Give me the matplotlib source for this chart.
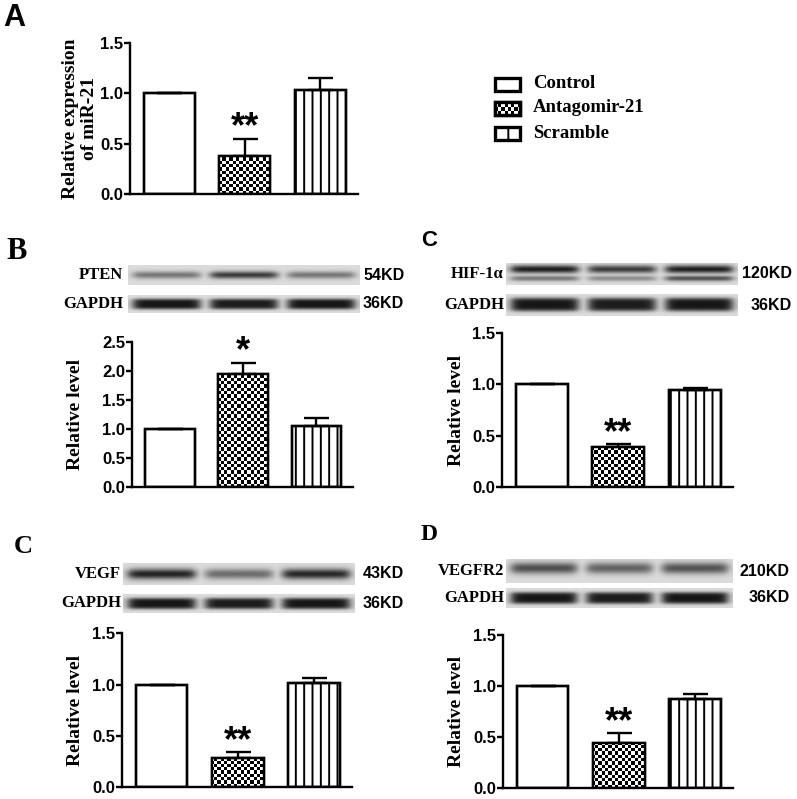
import numpy as np
import matplotlib
matplotlib.use("Agg")
import matplotlib.pyplot as plt
from matplotlib.patches import Rectangle

# ---------------- data ----------------
groups = ["Control", "Antagomir-21", "Scramble"]

mir21_mean = [1.00, 0.38, 1.03]
mir21_err = [0.0, 0.17, 0.12]

pten_mean = [1.00, 1.94, 1.04]
pten_err = [0.0, 0.20, 0.15]

hif_mean = [1.00, 0.39, 0.95]
hif_err = [0.0, 0.03, 0.02]

vegf_mean = [1.00, 0.29, 1.02]
vegf_err = [0.0, 0.055, 0.045]

vegfr2_mean = [1.00, 0.44, 0.87]
vegfr2_err = [0.0, 0.10, 0.055]

sig_A = ["", "**", ""]
sig_B = ["", "*", ""]
sig_C1 = ["", "**", ""]
sig_C2 = ["", "**", ""]
sig_D = ["", "**", ""]

# western blot band intensities per lane (relative darkness)
pten_band = [0.5, 0.8, 0.5]
hif_band = [0.95, 0.8, 0.95]
hif_band_lower = [0.5, 0.4, 0.7]
vegf_band = [0.92, 0.55, 0.9]
vegfr2_band = [0.7, 0.6, 0.68]
gapdh_band = [0.98, 0.95, 0.98]

# ---------------- figure ----------------
W, H = 797, 799
fig = plt.figure(figsize=(W / 100, H / 100), dpi=100)
fig.patch.set_facecolor("white")
plt.rcParams["hatch.linewidth"] = 1.4

SANS = "Liberation Sans"
SERIF = "Liberation Serif"


def ax_px(x0, y0, x1, y1):
    return fig.add_axes([x0 / W, 1 - y1 / H, (x1 - x0) / W, (y1 - y0) / H])


def checker_fill(ax, patch, cell=3.3):
    bb = ax.get_window_extent()
    nx = max(2, int(round(bb.width / cell)))
    ny = max(2, int(round(bb.height / cell)))
    ii, jj = np.indices((ny, nx))
    img = ((ii + jj) % 2).astype(float)
    xl, yl = ax.get_xlim(), ax.get_ylim()
    im = ax.imshow(img, cmap="gray", vmin=0, vmax=1, extent=(xl[0], xl[1], yl[0], yl[1]),
                   origin="lower", aspect="auto", interpolation="nearest", zorder=2.2)
    im.set_clip_path(patch)
    ax.set_xlim(xl)
    ax.set_ylim(yl)


def bar_panel(ax, means, errs, sigs, ymax, ystep):
    x = np.arange(len(means))
    ax.set_xlim(-0.52, 2.5)
    ax.set_ylim(0, ymax)
    bars = ax.bar(x, means, width=0.68, color="white", edgecolor="black", linewidth=1.7, zorder=2)
    bars[2].set_hatch("||")
    checker_fill(ax, bars[1])
    ax.bar(x, means, width=0.68, fill=False, edgecolor="black", linewidth=1.7, zorder=3)
    ax.errorbar(x, means, yerr=[np.zeros(len(errs)), errs], fmt="none", ecolor="black",
                elinewidth=1.7, capsize=9, capthick=1.7, zorder=3)
    for xi, m, e, s in zip(x, means, errs, sigs):
        if s:
            ax.annotate(s, (xi, m + e), xytext=(0, -5), textcoords="offset points",
                        ha="center", va="bottom", fontsize=26, fontweight="bold", family=SANS)
    for sp in ["top", "right"]:
        ax.spines[sp].set_visible(False)
    for sp in ["left", "bottom"]:
        ax.spines[sp].set_linewidth(1.7)
    ax.set_xticks([])
    ticks = np.arange(0, ymax + 1e-9, ystep)
    ax.set_yticks(ticks)
    ax.set_yticklabels([f"{t:.1f}" for t in ticks], fontsize=12, fontweight="bold", family=SANS)
    ax.tick_params(axis="y", length=4, width=1.7, pad=1)
    ax.patch.set_alpha(0)


def ylab(ax, text, xc_px, ax_x0, ax_x1, size=14, ls=1.1):
    ax.set_ylabel(text, fontsize=size, fontweight="bold", family=SERIF, va="center",
                  linespacing=ls)
    ax.yaxis.set_label_coords((xc_px - ax_x0) / (ax_x1 - ax_x0), 0.5)


def blot(x0, y0, x1, y1, upper, lower=None, sigma=0.16, yc=0.5, bg=0.86, hw=0.43, power=2):
    ax = ax_px(x0, y0, x1, y1)
    xs = np.linspace(0, 3, 700)
    ys = np.linspace(0, 1, 90)
    X, Y = np.meshgrid(xs, ys)
    dark = np.zeros_like(X)
    for i, a in enumerate(upper):
        h = 1 / (1 + np.exp((np.abs(X - (i + 0.5)) - hw) / 0.035))
        v = np.exp(-0.5 * (np.abs(Y - yc) / sigma) ** power)
        dark = np.maximum(dark, a * h * v)
    if lower is not None:
        for i, a in enumerate(lower):
            h = 1 / (1 + np.exp((np.abs(X - (i + 0.5)) - hw) / 0.035))
            v = np.exp(-0.5 * (np.abs(Y - 0.3) / 0.09) ** 2)
            dark = np.maximum(dark, a * h * v)
    img = bg - dark * (bg - 0.07)
    ax.imshow(img, cmap="gray", vmin=0, vmax=1, extent=(0, 3, 0, 1), origin="lower",
              aspect="auto", interpolation="bilinear")
    ax.set_axis_off()
    return ax


def name_label(x, y, text):
    fig.text(x / W, 1 - y / H, text, ha="right", va="center", fontsize=12,
             fontweight="bold", family=SERIF)


def kd_label(x, y, text, ha="left"):
    fig.text(x / W, 1 - y / H, text, ha=ha, va="center", fontsize=11.5,
             fontweight="bold", family=SANS)


def panel_letter(x, y, text, fam, size):
    fig.text(x / W, 1 - y / H, text, ha="left", va="top", fontsize=size,
             fontweight="bold", family=fam)


# ---------------- panel A ----------------
axA = ax_px(130, 43, 358, 194)
bar_panel(axA, mir21_mean, mir21_err, sig_A, 1.5, 0.5)
ylab(axA, "Relative expression\nof miR-21", 80, 130, 358, size=14, ls=1.1)
panel_letter(3, 3, "A", SANS, 22)

# legend
axL = ax_px(480, 65, 700, 150)
axL.set_xlim(480, 700)
axL.set_ylim(150, 65)
axL.set_axis_off()
leg_y = [84, 108, 133]
for k, (g, yy) in enumerate(zip(groups, leg_y)):
    r = Rectangle((495, yy - 6.5), 25, 13, facecolor="white", edgecolor="black", linewidth=2.4,
                  zorder=2)
    if k == 2:
        r.set_hatch("|")
    axL.add_patch(r)
    if k == 1:
        ii, jj = np.indices((4, 8))
        im = axL.imshow(((ii + jj) % 2).astype(float), cmap="gray", vmin=0, vmax=1,
                        extent=(495, 520, yy + 6.5, yy - 6.5), aspect="auto",
                        interpolation="nearest", zorder=2.2)
        im.set_clip_path(r)
        axL.add_patch(Rectangle((495, yy - 6.5), 25, 13, fill=False, edgecolor="black",
                                linewidth=2.4, zorder=3))
    axL.text(533, yy, g, ha="left", va="center", fontsize=13.5, fontweight="bold", family=SERIF)
axL.set_xlim(480, 700)
axL.set_ylim(150, 65)

# ---------------- panel B ----------------
panel_letter(6, 237, "B", SERIF, 22)
blot(128, 265, 360, 285, pten_band, sigma=0.13)
blot(128, 295, 360, 313, gapdh_band, sigma=0.25, power=4)
name_label(123, 275, "PTEN")
name_label(123, 304, "GAPDH")
kd_label(363, 275, "54KD")
kd_label(363, 304, "36KD")
axB = ax_px(132, 341.7, 353, 486.7)
bar_panel(axB, pten_mean, pten_err, sig_B, 2.5, 0.5)
ylab(axB, "Relative level", 75, 132, 353)

# ---------------- panel C (top right) ----------------
panel_letter(421, 230, "C", SANS, 16)
blot(506, 263, 738, 285, hif_band, lower=hif_band_lower, sigma=0.13, yc=0.72)
blot(506, 294, 738, 316, gapdh_band, sigma=0.25, power=4)
name_label(504, 274, "HIF-1α")
name_label(504, 305, "GAPDH")
kd_label(792, 274, "120KD", "right")
kd_label(792, 305, "36KD", "right")
axC1 = ax_px(502, 333.3, 733, 486.7)
bar_panel(axC1, hif_mean, hif_err, sig_C1, 1.5, 0.5)
ylab(axC1, "Relative level", 456.7, 502, 733)

# ---------------- panel C (bottom left) ----------------
panel_letter(14, 535, "C", SERIF, 19)
blot(123, 563, 355, 585, vegf_band, sigma=0.17)
blot(123, 594, 355, 613, gapdh_band, sigma=0.25, power=4)
name_label(121, 574, "VEGF")
name_label(121, 603, "GAPDH")
kd_label(363, 574, "43KD")
kd_label(363, 603, "36KD")
axC2 = ax_px(122, 633.3, 352, 787.3)
bar_panel(axC2, vegf_mean, vegf_err, sig_C2, 1.5, 0.5)
ylab(axC2, "Relative level", 75, 122, 352)

# ---------------- panel D ----------------
panel_letter(421, 524, "D", SERIF, 17)
blot(506, 559, 733, 583, vegfr2_band, sigma=0.17, yc=0.62)
blot(506, 588, 733, 608, gapdh_band, sigma=0.25, power=4)
name_label(504, 571, "VEGFR2")
name_label(504, 598, "GAPDH")
kd_label(790, 571, "210KD", "right")
kd_label(790, 598, "36KD", "right")
axD = ax_px(503, 635, 733, 787.7)
bar_panel(axD, vegfr2_mean, vegfr2_err, sig_D, 1.5, 0.5)
ylab(axD, "Relative level", 456.7, 503, 733)

fig.savefig("out.png", dpi=100, facecolor="white")
